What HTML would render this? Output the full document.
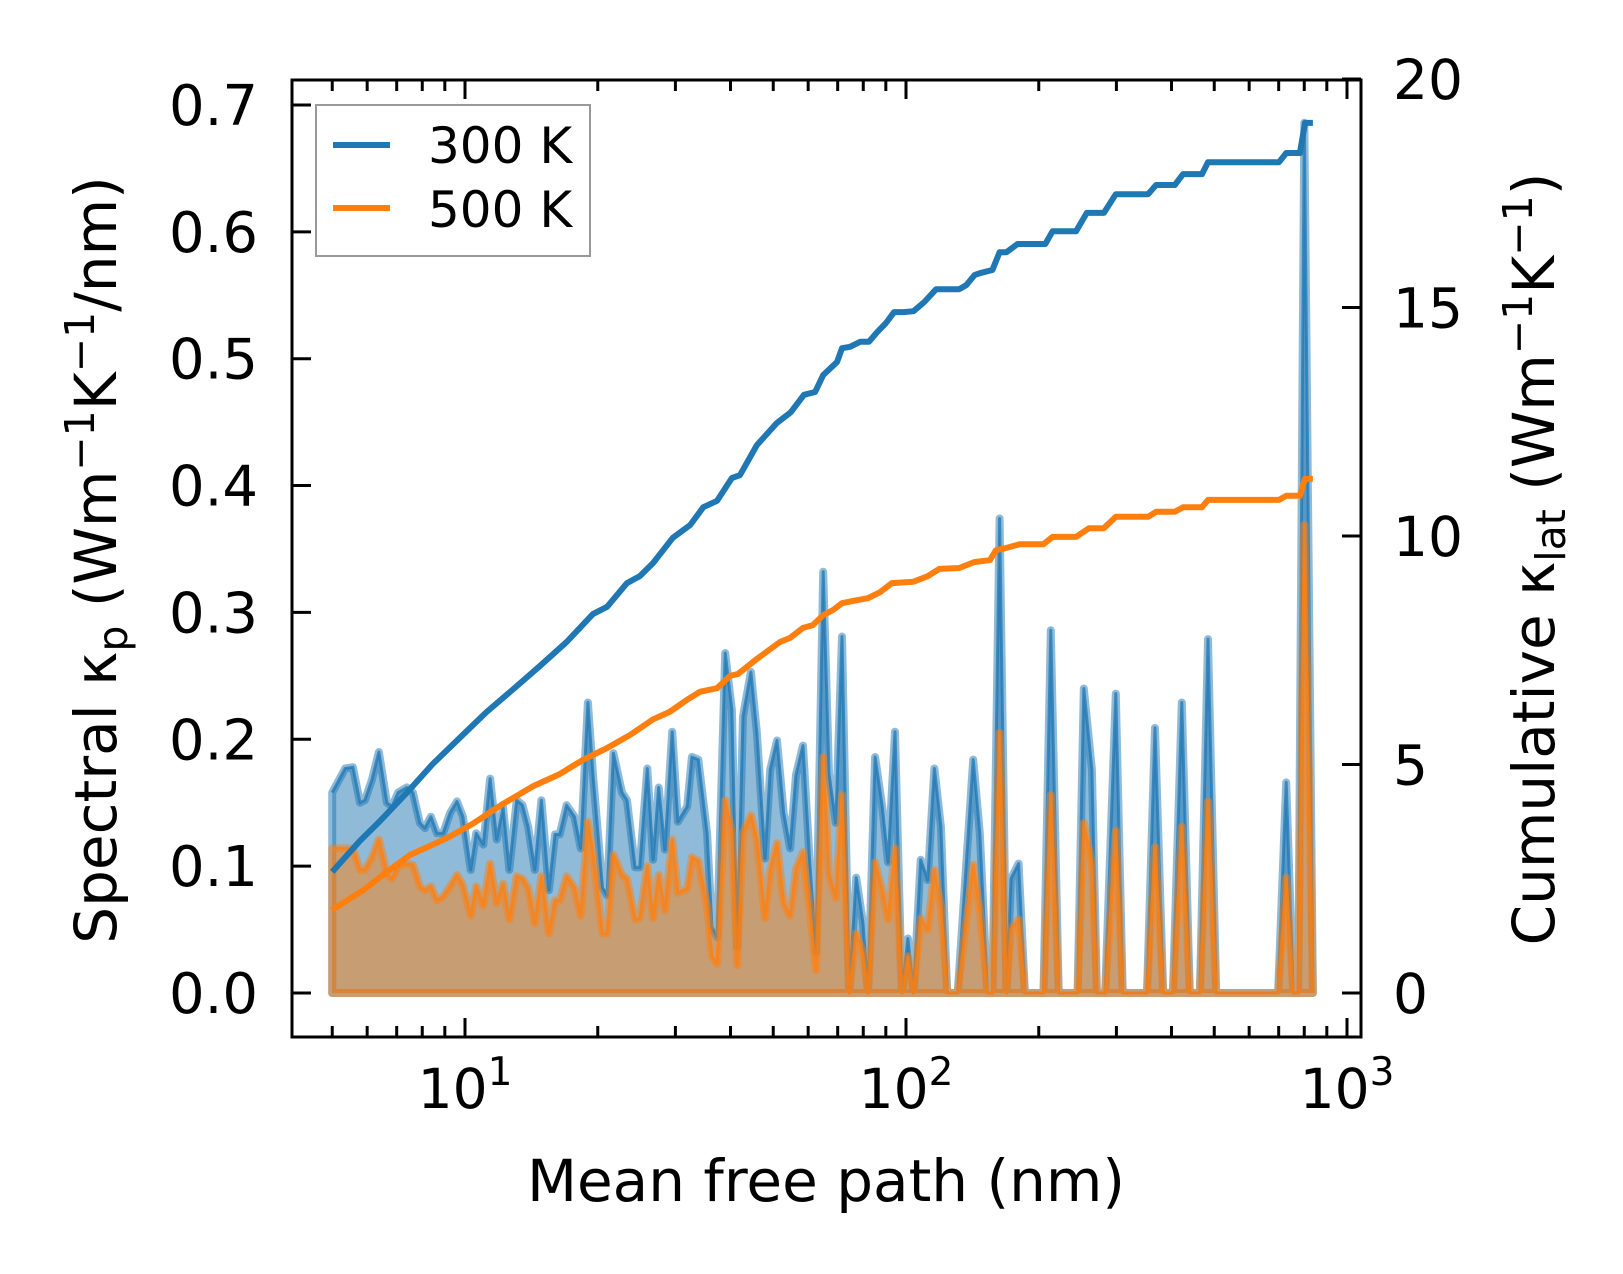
<!DOCTYPE html>
<html><head><meta charset="utf-8"><style>
html,body{margin:0;padding:0;background:#fff;}
svg{display:block;font-family:"DejaVu Sans","Liberation Sans",sans-serif;}
</style></head><body>
<svg id="chart" width="1623" height="1274" viewBox="0 0 1623 1274" xmlns="http://www.w3.org/2000/svg">
<rect width="1623" height="1274" fill="#fff"/>
<g id="plot"></g>
<g id="axes"></g>
</svg>
<script>
const mfp = [5.0,5.35,5.57,5.78,5.93,6.15,6.38,6.65,6.83,7.05,7.38,7.62,7.90,8.11,8.37,8.64,8.92,9.25,9.59,9.89,10.3,10.6,11.0,11.4,11.8,12.2,12.6,13.1,13.5,13.9,14.4,14.9,15.5,16.0,16.4,17.0,17.7,18.3,19.0,19.5,20.5,21.0,21.7,22.7,23.3,24.3,24.9,25.9,26.7,27.5,28.4,29.5,30.4,31.9,32.7,33.8,
35.4,36.3,37.3,38.9,40.3,41.4,42.7,44.5,45.9,47.9,49.2,51.0,52.8,54.6,56.3,58.4,60.5,62.5,64.9,66.9,69.3,71.6,74.3,77.1,79.9,82.0,85.1,88.3,91.1,94.4,97.9,101,104,108,112,116,120,124,131,142,147,153,157,163,
169,173,180,186,205,213,222,245,253,264,271,283,299,310,352,367,383,403,422,440,464,484,505,698,728,755,775,800,837];
const spec300 = [0.158,0.177,0.178,0.150,0.152,0.168,0.190,0.150,0.147,0.158,0.162,0.158,0.134,0.130,0.139,0.126,0.126,0.142,0.151,0.139,0.097,0.126,0.117,0.169,0.121,0.146,0.097,0.152,0.148,0.131,0.097,0.152,0.081,0.125,0.125,0.148,0.139,0.114,0.229,0.173,0.083,0.077,0.189,0.158,0.152,0.099,0.099,0.177,0.105,0.162,0.113,0.206,0.135,0.147,0.186,0.184,
0.126,0.052,0.044,0.268,0.223,0.036,0.218,0.253,0.205,0.106,0.176,0.199,0.142,0.114,0.172,0.195,0.102,0.032,0.332,0.173,0.134,0.281,0,0.091,0.055,0,0.186,0.147,0.103,0.206,0,0.043,0,0.105,0.089,0.177,0.131,0,0,0.184,0.126,0,0,0.374,
0,0.090,0.102,0,0,0.286,0,0,0.240,0.176,0,0,0.236,0,0,0.209,0,0,0.229,0,0,0.279,0,0,0.166,0,0,0.686,0];
const spec500 = [0.114,0.114,0.114,0.097,0.097,0.107,0.121,0.094,0.090,0.100,0.102,0.101,0.084,0.081,0.084,0.073,0.076,0.084,0.093,0.085,0.061,0.084,0.069,0.102,0.071,0.086,0.058,0.092,0.090,0.083,0.055,0.092,0.047,0.073,0.073,0.092,0.083,0.061,0.135,0.110,0.047,0.047,0.109,0.093,0.090,0.058,0.059,0.100,0.059,0.093,0.065,0.121,0.079,0.082,0.107,0.104,
0.068,0.029,0.023,0.152,0.126,0.022,0.126,0.140,0.121,0.059,0.097,0.118,0.071,0.061,0.098,0.111,0.065,0.018,0.186,0.094,0.075,0.156,0,0.047,0.031,0,0.103,0.081,0.058,0.114,0,0.029,0,0.059,0.050,0.097,0.068,0,0,0.101,0.065,0,0,0.205,
0,0.050,0.058,0,0,0.156,0,0,0.134,0.102,0,0,0.128,0,0,0.115,0,0,0.131,0,0,0.151,0,0,0.091,0,0,0.369,0];
const cumMfp300 = [5.0,5.78,6.41,7.38,8.45,9.89,11.2,12.8,14.8,17.0,19.5,21.0,23.3,24.9,26.7,29.6,32.4,34.7,37.3,40.3,42.0,45.9,50.9,54.8,58.7,62.2,64.9,69.8,71.6,74.7,78.7,82.4,86.0,90.1,94.0,98.9,104,110,117,132,137,143,147,157,163,169,179,207,215,243,257,281,299,354,369,407,425,469,484,701,728,782,803,837];
const cum300 = [2.65,3.33,3.76,4.38,5.01,5.65,6.15,6.63,7.16,7.68,8.29,8.45,8.97,9.12,9.41,9.96,10.24,10.63,10.77,11.27,11.33,11.99,12.47,12.71,13.09,13.15,13.52,13.81,14.11,14.14,14.25,14.25,14.46,14.66,14.90,14.90,14.92,15.12,15.40,15.40,15.49,15.71,15.75,15.82,16.21,16.21,16.39,16.39,16.67,16.67,17.07,17.07,17.48,17.48,17.68,17.68,17.92,17.92,18.18,18.18,18.38,18.38,19.04,19.04];
const cumMfp500 = [5.0,5.88,6.65,7.50,9.10,10.4,12.2,14.3,16.4,18.5,21.0,23.7,26.7,29.1,31.8,34.1,37.3,39.9,41.6,45.9,51.8,54.6,58.4,61.5,64.9,68.3,71.6,75.8,82.0,87.3,92.9,104,112,119,132,143,155,160,169,181,205,215,243,260,281,299,354,369,407,425,469,484,701,728,782,803,837];
const cum500 = [1.82,2.25,2.65,3.02,3.39,3.70,4.14,4.53,4.79,5.10,5.36,5.65,5.99,6.15,6.41,6.59,6.67,6.94,6.98,7.31,7.68,7.77,7.99,8.05,8.27,8.38,8.53,8.58,8.64,8.77,8.97,9.00,9.12,9.28,9.30,9.43,9.47,9.69,9.74,9.82,9.82,9.98,9.98,10.17,10.17,10.42,10.42,10.53,10.53,10.63,10.63,10.79,10.79,10.88,10.88,11.25,11.25];
const leftTicks = [0.0,0.1,0.2,0.3,0.4,0.5,0.6,0.7];
const leftTickLabels = ["0.0","0.1","0.2","0.3","0.4","0.5","0.6","0.7"];
const rightTicks = [0,5,10,15,20];
const rightTickLabels = ["0","5","10","15","20"];
const xMajor = [1,2,3];

const L=292,R=1361,T=80,B=1037;
const X = m => 465 + (Math.log10(m)-1)*441;
const YL = v => 993 - v*1268.6;
const YR = v => 993 - v*45.7;
const NS="http://www.w3.org/2000/svg";
const plot=document.getElementById('plot'), axes=document.getElementById('axes');
function mk(tag,attrs,parent){const e=document.createElementNS(NS,tag);for(const k in attrs)e.setAttribute(k,attrs[k]);parent.appendChild(e);return e;}

function spectral(vals,color,name){
  let pts=mfp.map((m,i)=>X(m).toFixed(1)+','+YL(vals[i]).toFixed(1));
  let poly=pts.join(' ')+' '+X(mfp[mfp.length-1]).toFixed(1)+','+YL(0)+' '+X(mfp[0]).toFixed(1)+','+YL(0);
  const f=mk('polygon',{points:poly,fill:color,'fill-opacity':0.5,stroke:color,'stroke-opacity':0.5,'stroke-width':8,'stroke-linejoin':'round'},plot);
  
  
  const l=mk('polyline',{points:pts.join(' '),fill:'none',stroke:color,'stroke-opacity':0.75,'stroke-width':3,'stroke-linejoin':'round'},plot);
  
  
}
spectral(spec300,'#1f77b4','spectral-300k');
spectral(spec500,'#ff7f0e','spectral-500k');

function cumLine(ms,vals,color,name){
  const pts=ms.map((m,i)=>X(m).toFixed(1)+','+YR(vals[i]).toFixed(1)).join(' ');
  const l=mk('polyline',{points:pts,fill:'none',stroke:color,'stroke-width':6,'stroke-linejoin':'round'},plot);
  
  
}
cumLine(cumMfp300,cum300,'#1f77b4','cumulative-300k');
cumLine(cumMfp500,cum500,'#ff7f0e','cumulative-500k');

const fr=mk('rect',{x:L,y:T,width:R-L,height:B-T,fill:'none',stroke:'#000','stroke-width':3},axes);



for(let d=0;d<=3;d++){
  for(let k=1;k<10;k++){
    const m=k*Math.pow(10,d);
    const x=X(m);
    if(x<L+2||x>R-2) continue;
    const len=(k===1)?19:11;
    const t1=mk('line',{x1:x,y1:B,x2:x,y2:B-len,stroke:'#000','stroke-width':3},axes);
    
    
    const t2=mk('line',{x1:x,y1:T,x2:x,y2:T+len,stroke:'#000','stroke-width':3},axes);
    
    
  }
}
xMajor.forEach(p=>{
  const x=X(Math.pow(10,p));
  const t=mk('text',{x:x,y:1108,'font-size':55,'text-anchor':'middle',fill:'#000'},axes);
  
  
  t.innerHTML='10<tspan dy="-23" font-size="39">'+p+'</tspan>';
});
leftTicks.forEach((v,i)=>{
  const y=YL(v);
  const l=mk('line',{x1:L,y1:y,x2:L+19,y2:y,stroke:'#000','stroke-width':3},axes);
  
  
  const t=mk('text',{x:258,y:y+20,'font-size':56,'text-anchor':'end',fill:'#000'},axes);
  
  
  t.textContent=leftTickLabels[i];
});
rightTicks.forEach((v,i)=>{
  const y=YR(v);
  const l=mk('line',{x1:R,y1:y,x2:R-19,y2:y,stroke:'#000','stroke-width':3},axes);
  
  
  const t=mk('text',{x:1393,y:y+20,'font-size':55,'text-anchor':'start',fill:'#000'},axes);
  
  
  t.textContent=rightTickLabels[i];
});
</script>
<svg style="position:absolute;left:0;top:0" width="1623" height="1274" xmlns="http://www.w3.org/2000/svg" font-family="DejaVu Sans, Liberation Sans, sans-serif">
<text x="826" y="1201" font-size="58" text-anchor="middle">Mean free path (nm)</text>
<text transform="translate(116,560) rotate(-90)" font-size="58" text-anchor="middle">Spectral κ<tspan font-size="41" dy="11">p</tspan><tspan dy="-11"> (Wm</tspan><tspan font-size="41" dy="-22">−1</tspan><tspan dy="22">K</tspan><tspan font-size="41" dy="-22">−1</tspan><tspan dy="22">/nm)</tspan></text>
<text transform="translate(1554,559) rotate(-90)" font-size="58" text-anchor="middle">Cumulative κ<tspan font-size="41" dy="11">lat</tspan><tspan dy="-11"> (Wm</tspan><tspan font-size="41" dy="-22">−1</tspan><tspan dy="22">K</tspan><tspan font-size="41" dy="-22">−1</tspan><tspan dy="22">)</tspan></text>
<g>
<rect x="316" y="105" width="274" height="151" fill="#fff" stroke="#999" stroke-width="2"/>
<line x1="333" y1="145" x2="390" y2="145" stroke="#1f77b4" stroke-width="6"/>
<text x="428" y="163" font-size="50">300 K</text>
<line x1="333" y1="208" x2="390" y2="208" stroke="#ff7f0e" stroke-width="6"/>
<text x="428" y="227" font-size="50">500 K</text>
</g>
</svg>
</body></html>
